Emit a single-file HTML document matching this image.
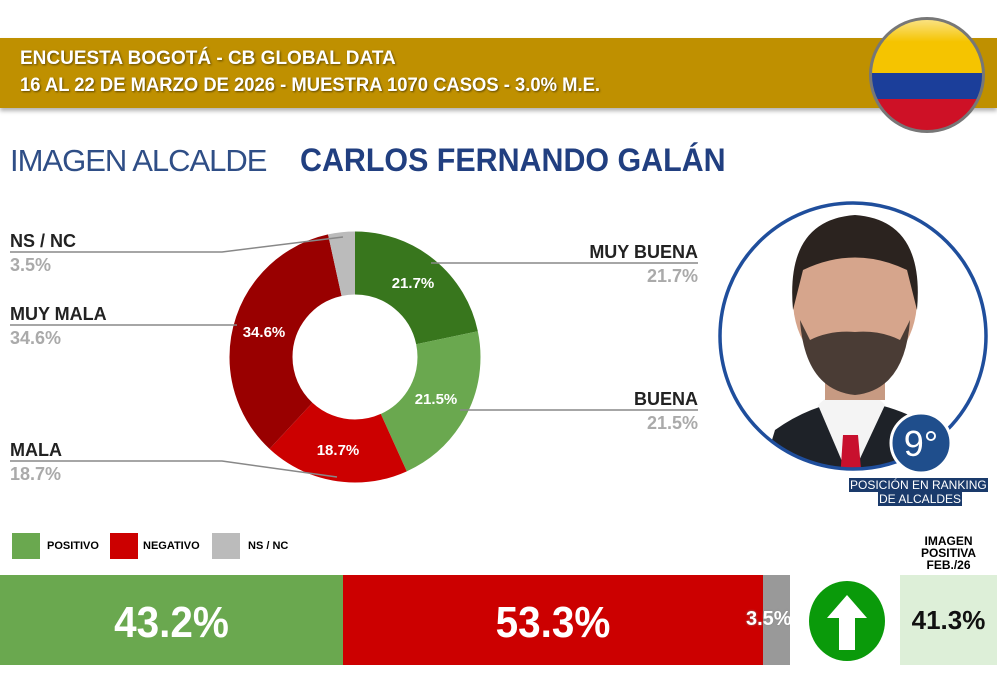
<!DOCTYPE html>
<html><head><meta charset="utf-8"><style>
body{margin:0;width:997px;height:677px;background:#fff;overflow:hidden;position:relative;font-family:"Liberation Sans",sans-serif}
.a{position:absolute}
.hdr{left:0;top:38px;width:997px;height:70px;background:#BF9000;box-shadow:0 3px 4px rgba(0,0,0,.3)}
.ht{color:#fff;font-family:"Liberation Sans Narrow","Liberation Sans",sans-serif;font-weight:bold;font-size:19px;left:20px;text-shadow:1px 1px 2px rgba(0,0,0,.5);transform-origin:left}
.lab{font-weight:bold;font-size:18px;color:#222}
.pct{font-weight:bold;font-size:18px;color:#aaa}
.big{color:#fff;font-size:44px;font-weight:bold;top:598px;text-align:center;transform:scaleX(.92)}
</style></head><body>
<div class="a hdr"></div>
<div class="a ht" style="top:48px;transform:scaleX(1.0)">ENCUESTA BOGOTÁ - CB GLOBAL DATA</div>
<div class="a ht" style="top:75px;transform:scaleX(0.97)">16 AL 22 DE MARZO DE 2026 - MUESTRA 1070 CASOS - 3.0% M.E.</div>
<svg class="a" style="left:865px;top:14px" width="124" height="124">
<defs><clipPath id="fc"><circle cx="62" cy="61" r="55"/></clipPath>
<linearGradient id="gl" x1="0" y1="0" x2="0" y2="1"><stop offset="0" stop-color="#fff" stop-opacity=".6"/><stop offset=".5" stop-color="#fff" stop-opacity="0"/></linearGradient></defs>
<circle cx="62" cy="61" r="58" fill="#777"/>
<g clip-path="url(#fc)"><rect x="0" y="0" width="124" height="59" fill="#F5C400"/><rect x="0" y="59" width="124" height="26" fill="#1B3E9A"/><rect x="0" y="85" width="124" height="40" fill="#CE1126"/><ellipse cx="62" cy="28" rx="48" ry="26" fill="url(#gl)"/></g>
</svg>
<div class="a" style="left:10px;top:143px;font-size:31px;color:#2F4E86;letter-spacing:-1px">IMAGEN ALCALDE</div>
<div class="a" style="left:300px;top:142px;font-size:32px;font-weight:bold;color:#213F80;transform:scaleX(0.95);transform-origin:left">CARLOS FERNANDO GALÁN</div>

<svg class="a" style="left:0;top:0" width="997" height="677">
<g transform="rotate(-90 355 357)" fill="none" stroke-width="63">
<circle cx="355" cy="357" r="94" stroke="#38761D" stroke-dasharray="128.2 600" stroke-dashoffset="0"/>
<circle cx="355" cy="357" r="94" stroke="#6AA84F" stroke-dasharray="127 600" stroke-dashoffset="-128.2"/>
<circle cx="355" cy="357" r="94" stroke="#CC0000" stroke-dasharray="110.4 600" stroke-dashoffset="-255.2"/>
<circle cx="355" cy="357" r="94" stroke="#990000" stroke-dasharray="204.4 600" stroke-dashoffset="-365.6"/>
<circle cx="355" cy="357" r="94" stroke="#BBBBBB" stroke-dasharray="20.7 600" stroke-dashoffset="-570"/>
</g>
<g stroke="#888" stroke-width="1.5" fill="none">
<polyline points="431,263 698,263"/><polyline points="460,410 698,410"/>
<polyline points="10,252 222,252 343,237"/><polyline points="10,325 237,325"/>
<polyline points="10,461 222,461 337,477"/>
</g>
<g fill="#fff" font-weight="bold" font-size="15" text-anchor="middle" font-family="Liberation Sans">
<text x="413" y="288">21.7%</text><text x="436" y="404">21.5%</text><text x="338" y="455">18.7%</text><text x="264" y="337">34.6%</text>
</g>
</svg>
<div class="a lab" style="left:10px;top:231px">NS / NC</div><div class="a pct" style="left:10px;top:255px">3.5%</div>
<div class="a lab" style="left:10px;top:304px">MUY MALA</div><div class="a pct" style="left:10px;top:328px">34.6%</div>
<div class="a lab" style="left:10px;top:440px">MALA</div><div class="a pct" style="left:10px;top:464px">18.7%</div>
<div class="a lab" style="right:299px;top:242px">MUY BUENA</div><div class="a pct" style="right:299px;top:266px">21.7%</div>
<div class="a lab" style="right:299px;top:389px">BUENA</div><div class="a pct" style="right:299px;top:413px">21.5%</div>

<svg class="a" style="left:700px;top:190px" width="297" height="290">
<defs><clipPath id="pc"><circle cx="153" cy="146" r="133"/></clipPath></defs>
<circle cx="153" cy="146" r="133" fill="#fff"/>
<g clip-path="url(#pc)">
<path d="M60 290 L75 240 Q110 215 150 210 Q200 215 235 240 L250 290Z" fill="#1e2228"/>
<path d="M118 215 L150 290 L185 215 L170 200 L135 200Z" fill="#f4f4f4"/>
<path d="M143 245 L158 245 L162 290 L140 290Z" fill="#c8102e"/>
<rect x="125" y="150" width="60" height="60" fill="#c79a82"/>
<ellipse cx="155" cy="110" rx="62" ry="75" fill="#d6a58c"/>
<path d="M93 120 Q85 30 155 25 Q225 30 217 120 L207 80 Q155 55 103 80Z" fill="#2b231f"/>
<path d="M100 130 Q105 200 155 205 Q205 200 210 130 L200 150 Q180 140 155 142 Q130 140 110 150Z" fill="#4a3c35"/>
</g>
<circle cx="153" cy="146" r="133" fill="none" stroke="#1F4E9C" stroke-width="3.5"/>
<circle cx="221" cy="253" r="30" fill="#1F4E8C" stroke="#fff" stroke-width="3"/>
<text x="221" y="266" fill="#fff" font-size="36" text-anchor="middle" font-family="Liberation Sans">9°</text>
</svg>
<div class="a" style="left:849px;top:478px;background:#1a3a6b;color:#fff;font-size:12px;padding:0 1px;line-height:14px">POSICIÓN EN RANKING</div>
<div class="a" style="left:878px;top:492px;background:#1a3a6b;color:#fff;font-size:12px;padding:0 1px;line-height:14px">DE ALCALDES</div>

<div class="a" style="left:12px;top:533px;width:28px;height:26px;background:#6AA84F"></div>
<div class="a" style="left:47px;top:540px;font-size:11px;font-weight:bold">POSITIVO</div>
<div class="a" style="left:110px;top:533px;width:28px;height:26px;background:#CC0000"></div>
<div class="a" style="left:143px;top:540px;font-size:11px;font-weight:bold">NEGATIVO</div>
<div class="a" style="left:212px;top:533px;width:28px;height:26px;background:#BBBBBB"></div>
<div class="a" style="left:248px;top:540px;font-size:11px;font-weight:bold">NS / NC</div>
<div class="a" style="left:900px;top:535px;width:97px;text-align:center;font-size:12px;font-weight:bold;line-height:12px">IMAGEN<br>POSITIVA<br>FEB./26</div>

<div class="a" style="left:0;top:575px;width:343px;height:90px;background:#6AA84F"></div>
<div class="a" style="left:343px;top:575px;width:420px;height:90px;background:#CC0000"></div>
<div class="a" style="left:763px;top:575px;width:27px;height:90px;background:#999"></div>
<div class="a big" style="left:0;width:343px">43.2%</div>
<div class="a big" style="left:343px;width:420px">53.3%</div>
<div class="a" style="left:746px;top:608px;color:#fff;font-size:20px;font-weight:bold;text-shadow:0 0 2px #888">3.5%</div>
<div class="a" style="left:790px;top:575px;width:10px;height:90px;background:#fff"></div>
<svg class="a" style="left:807px;top:580px" width="80" height="82">
<ellipse cx="40" cy="41" rx="38" ry="40" fill="#0A9A0A"/>
<path d="M40 15 L60 38 L48 38 L48 70 L32 70 L32 38 L20 38Z" fill="#fff"/>
</svg>
<div class="a" style="left:900px;top:575px;width:97px;height:90px;background:#DDEFD8"></div>
<div class="a" style="left:900px;top:605px;width:97px;text-align:center;font-size:26px;font-weight:bold;color:#111">41.3%</div>
</body></html>
